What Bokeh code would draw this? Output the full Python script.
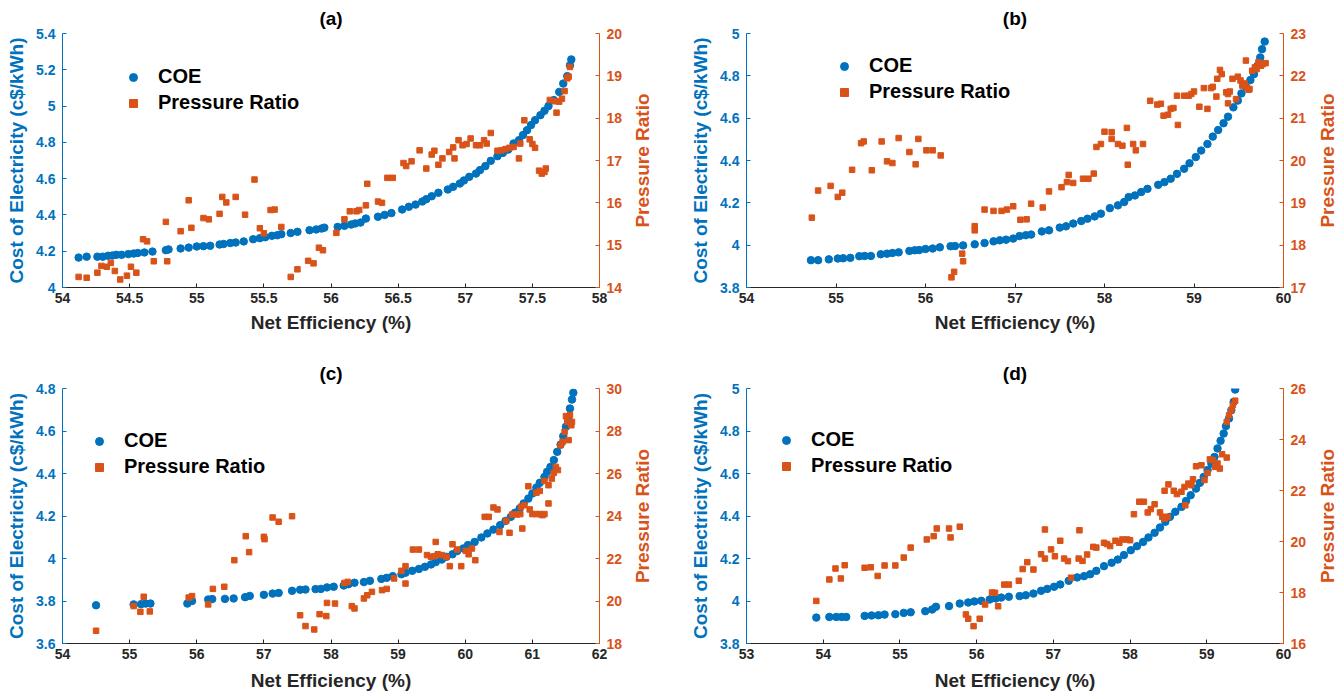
import math
from bokeh.plotting import figure
from bokeh.models import Range1d, LinearAxis, FixedTicker, Legend, LegendItem
from bokeh.core.properties import value
from bokeh.layouts import gridplot
from bokeh.embed import file_html
from bokeh.resources import INLINE

# ---------------- data: panel (a) ----------------
a_eff_coe = [54.12, 54.18, 54.26, 54.30, 54.34, 54.37, 54.40, 54.44, 54.49, 54.53, 54.56, 54.61, 54.67,
             54.77, 54.79, 54.88, 54.94, 55.00, 55.05, 55.10, 55.17, 55.20, 55.25, 55.29, 55.35, 55.42,
             55.47, 55.51, 55.56, 55.60, 55.63, 55.70, 55.75, 55.84, 55.89, 55.93, 55.95, 56.05, 56.10,
             56.15, 56.18, 56.22, 56.26, 56.35, 56.40, 56.45, 56.53, 56.58, 56.63, 56.68, 56.71, 56.75,
             56.80, 56.87, 56.91, 56.96, 56.99, 57.03, 57.08, 57.11, 57.15, 57.19, 57.24, 57.28, 57.32,
             57.36, 57.40, 57.43, 57.46, 57.49, 57.52, 57.56, 57.59, 57.62, 57.66, 57.70, 57.73, 57.76,
             57.78, 57.79]
a_coe = [4.165, 4.17, 4.17, 4.17, 4.175, 4.176, 4.18, 4.18, 4.184, 4.187, 4.19, 4.193, 4.198,
         4.206, 4.21, 4.215, 4.22, 4.226, 4.228, 4.23, 4.237, 4.24, 4.245, 4.248, 4.254, 4.266,
         4.272, 4.277, 4.285, 4.288, 4.294, 4.30, 4.307, 4.316, 4.32, 4.325, 4.33, 4.334, 4.34,
         4.347, 4.353, 4.358, 4.38, 4.39, 4.40, 4.41, 4.43, 4.445, 4.457, 4.474, 4.487, 4.503,
         4.522, 4.54, 4.555, 4.573, 4.59, 4.61, 4.628, 4.647, 4.669, 4.698, 4.724, 4.742, 4.76,
         4.794, 4.812, 4.84, 4.867, 4.895, 4.922, 4.95, 4.974, 5.0, 5.033, 5.078, 5.124, 5.165,
         5.225, 5.257]
a_eff_pr = [54.12, 54.18, 54.26, 54.29, 54.33, 54.36, 54.39, 54.43, 54.48, 54.51, 54.55, 54.60, 54.63,
            54.68, 54.77, 54.78, 54.88, 54.94, 54.96, 55.05, 55.09, 55.17, 55.19, 55.22, 55.29, 55.36,
            55.43, 55.47, 55.50, 55.55, 55.58, 55.63, 55.70, 55.75, 55.83, 55.87, 55.91, 55.94, 56.04,
            56.10, 56.14, 56.19, 56.21, 56.26, 56.27, 56.35, 56.38, 56.42, 56.46, 56.54, 56.56, 56.60,
            56.66, 56.71, 56.75, 56.77, 56.80, 56.83, 56.88, 56.91, 56.92, 56.95, 56.98, 57.01, 57.04,
            57.08, 57.11, 57.14, 57.16, 57.19, 57.24, 57.27, 57.30, 57.33, 57.36, 57.40, 57.41, 57.44,
            57.48, 57.50, 57.52, 57.55, 57.57, 57.59, 57.60, 57.63, 57.67, 57.68, 57.70, 57.72, 57.74,
            57.76, 57.77, 57.78]
a_pr = [14.25, 14.23, 14.35, 14.51, 14.49, 14.58, 14.39, 14.19, 14.28, 14.49, 14.35, 15.14, 15.09,
        14.62, 15.55, 14.62, 15.33, 16.06, 15.41, 15.64, 15.61, 15.74, 16.14, 16.01, 16.14, 15.72,
        16.55, 15.40, 15.28, 15.83, 15.84, 15.43, 14.25, 14.43, 14.63, 14.57, 14.94, 14.88, 15.29,
        15.61, 15.80, 15.80, 15.83, 15.94, 16.45, 16.03, 16.00, 16.59, 16.59, 16.94, 16.87, 16.98,
        17.24, 16.81, 17.14, 17.23, 16.90, 17.05, 17.20, 17.31, 17.05, 17.48, 17.36, 17.39, 17.52,
        17.36, 17.36, 17.48, 17.40, 17.65, 17.23, 17.24, 17.27, 17.30, 17.32, 17.05, 17.40, 17.95,
        17.50, 17.39, 17.30, 16.76, 16.69, 16.73, 16.81, 18.43, 18.40, 18.13, 18.39, 18.46, 18.64,
        18.94, 18.98, 19.21]

# ---------------- data: panel (b) ----------------
b_eff_coe = [54.72, 54.80, 54.92, 55.02, 55.08, 55.16, 55.26, 55.32, 55.39, 55.50, 55.57, 55.63, 55.70,
             55.82, 55.88, 55.93, 56.00, 56.08, 56.16, 56.28, 56.33, 56.42, 56.55, 56.66, 56.76, 56.83,
             56.90, 56.98, 57.05, 57.12, 57.18, 57.30, 57.38, 57.50, 57.57, 57.65, 57.74, 57.81, 57.89,
             57.96, 58.06, 58.15, 58.22, 58.27, 58.34, 58.41, 58.48, 58.60, 58.67, 58.74, 58.81, 58.89,
             58.95, 59.02, 59.08, 59.15, 59.21, 59.27, 59.33, 59.38, 59.44, 59.49, 59.53, 59.58, 59.63,
             59.67, 59.71, 59.74, 59.76, 59.79]
b_coe = [3.929, 3.929, 3.933, 3.937, 3.938, 3.94, 3.948, 3.949, 3.949, 3.957, 3.96, 3.963, 3.966,
         3.973, 3.976, 3.977, 3.982, 3.984, 3.99, 3.995, 3.996, 3.999, 4.004, 4.01, 4.018, 4.023,
         4.026, 4.031, 4.043, 4.047, 4.05, 4.065, 4.07, 4.083, 4.089, 4.102, 4.114, 4.125, 4.136,
         4.149, 4.175, 4.188, 4.204, 4.227, 4.235, 4.251, 4.266, 4.285, 4.298, 4.314, 4.337, 4.361,
         4.387, 4.416, 4.447, 4.478, 4.513, 4.544, 4.576, 4.607, 4.651, 4.683, 4.717, 4.749, 4.78,
         4.808, 4.848, 4.887, 4.926, 4.962]
b_eff_pr = [54.73, 54.80, 54.94, 55.02, 55.07, 55.18, 55.28, 55.31, 55.40, 55.51, 55.57, 55.63, 55.70,
            55.82, 55.89, 55.92, 56.01, 56.08, 56.17, 56.29, 56.32, 56.41, 56.42, 56.55, 56.55, 56.66,
            56.76, 56.85, 56.91, 56.98, 57.06, 57.13, 57.18, 57.31, 57.38, 57.52, 57.58, 57.60, 57.65,
            57.76, 57.82, 57.88, 57.91, 57.96, 58.00, 58.08, 58.08, 58.15, 58.20, 58.25, 58.26, 58.32,
            58.35, 58.43, 58.51, 58.59, 58.63, 58.66, 58.71, 58.74, 58.77, 58.81, 58.82, 58.89, 58.94,
            58.97, 59.00, 59.06, 59.11, 59.15, 59.19, 59.21, 59.25, 59.26, 59.29, 59.31, 59.36, 59.38,
            59.38, 59.40, 59.43, 59.47, 59.49, 59.52, 59.54, 59.57, 59.59, 59.62, 59.58, 59.61, 59.65,
            59.68, 59.70, 59.72, 59.75, 59.77, 59.80]
b_pr = [18.65, 19.29, 19.40, 19.14, 19.24, 19.78, 20.41, 20.45, 19.77, 20.45, 19.98, 19.94, 20.53,
        20.20, 19.91, 20.51, 20.24, 20.24, 20.12, 17.24, 17.37, 17.80, 17.62, 18.35, 18.45, 18.84,
        18.81, 18.81, 18.84, 18.92, 18.60, 18.61, 18.98, 18.89, 19.27, 19.37, 19.49, 19.66, 19.47,
        19.57, 19.57, 19.69, 20.32, 20.39, 20.68, 20.67, 20.51, 20.39, 20.35, 20.77, 19.90, 20.39,
        20.24, 20.39, 21.41, 21.32, 21.34, 21.06, 21.08, 21.22, 21.24, 21.53, 20.84, 21.53, 21.53,
        21.57, 21.63, 21.27, 21.71, 21.22, 21.71, 21.74, 21.51, 21.93, 22.14, 22.04, 21.61, 21.57,
        21.35, 21.63, 21.93, 21.45, 21.98, 21.89, 21.77, 21.82, 21.71, 21.69, 22.36, 21.67, 22.12,
        22.20, 22.16, 22.32, 22.24, 22.28, 22.30]

# ---------------- data: panel (c) ----------------
c_eff_coe = [54.50, 55.06, 55.17, 55.24, 55.31, 55.86, 55.93, 56.17, 56.23, 56.42, 56.55, 56.72, 56.79,
             57.00, 57.13, 57.22, 57.42, 57.54, 57.62, 57.77, 57.85, 57.94, 58.04, 58.19, 58.26, 58.35,
             58.49, 58.58, 58.75, 58.83, 58.92, 59.05, 59.11, 59.21, 59.31, 59.40, 59.49, 59.56, 59.65,
             59.72, 59.81, 59.88, 59.97, 60.04, 60.14, 60.24, 60.33, 60.42, 60.52, 60.60, 60.68, 60.74,
             60.81, 60.87, 60.94, 61.00, 61.06, 61.11, 61.18, 61.22, 61.27, 61.32, 61.37, 61.42, 61.46,
             61.50, 61.53, 61.56, 61.59, 61.61]
c_coe = [3.780, 3.784, 3.785, 3.788, 3.788, 3.788, 3.80, 3.807, 3.809, 3.81, 3.812, 3.818, 3.824,
         3.829, 3.835, 3.838, 3.848, 3.853, 3.854, 3.856, 3.857, 3.864, 3.867, 3.873, 3.879, 3.886,
         3.889, 3.895, 3.904, 3.909, 3.917, 3.926, 3.933, 3.942, 3.951, 3.961, 3.972, 3.983, 3.995,
         4.008, 4.02, 4.035, 4.047, 4.063, 4.078, 4.099, 4.118, 4.136, 4.157, 4.177, 4.196, 4.215,
         4.235, 4.259, 4.282, 4.306, 4.334, 4.356, 4.384, 4.408, 4.431, 4.463, 4.502, 4.536, 4.576,
         4.62, 4.659, 4.706, 4.748, 4.78]
c_eff_pr = [54.50, 55.06, 55.16, 55.21, 55.30, 55.88, 55.93, 56.17, 56.24, 56.41, 56.56, 56.73, 56.78,
            57.00, 57.01, 57.13, 57.22, 57.42, 57.54, 57.62, 57.75, 57.83, 57.93, 57.94, 58.06, 58.20,
            58.25, 58.31, 58.35, 58.49, 58.54, 58.61, 58.76, 58.83, 58.94, 59.05, 59.11, 59.11, 59.22,
            59.31, 59.43, 59.49, 59.54, 59.56, 59.59, 59.65, 59.72, 59.77, 59.81, 59.88, 59.94, 60.01,
            60.05, 60.10, 60.15, 60.29, 60.35, 60.42, 60.48, 60.51, 60.61, 60.66, 60.70, 60.77, 60.82,
            60.83, 60.85, 60.88, 60.94, 60.96, 61.00, 61.06, 61.11, 61.15, 61.18, 61.06, 61.11, 61.24,
            61.18, 61.24, 61.29, 61.32, 61.35, 61.38, 61.42, 61.45, 61.48, 61.50, 61.52, 61.54, 61.56,
            61.58, 61.59]
c_pr = [18.60, 19.76, 19.49, 20.20, 19.51, 20.16, 20.23, 19.84, 20.57, 20.67, 21.92, 23.05, 22.30,
        23.02, 22.91, 23.93, 23.73, 23.99, 19.33, 18.82, 18.66, 19.38, 19.29, 19.91, 19.88, 20.85,
        20.90, 19.76, 19.65, 20.12, 20.27, 20.43, 20.51, 20.57, 21.06, 21.42, 21.64, 20.82, 22.42,
        22.42, 22.16, 22.08, 22.11, 22.78, 22.20, 22.16, 22.08, 21.64, 22.67, 22.42, 21.64, 22.36,
        22.20, 22.47, 21.92, 23.96, 23.96, 24.40, 24.31, 23.25, 23.77, 23.21, 24.07, 24.07, 24.09,
        24.43, 23.41, 24.51, 25.40, 24.31, 24.09, 24.09, 24.09, 24.04, 24.09, 25.09, 25.18, 24.59,
        25.65, 25.45, 25.76, 26.03, 26.31, 26.16, 27.33, 27.49, 27.96, 28.70, 28.43, 27.57, 28.75,
        28.27, 28.43]

# ---------------- data: panel (d) ----------------
d_eff_coe = [53.91, 54.08, 54.17, 54.24, 54.30, 54.54, 54.63, 54.72, 54.80, 54.94, 55.05, 55.14, 55.33,
             55.42, 55.47, 55.64, 55.78, 55.89, 55.97, 56.06, 56.17, 56.25, 56.32, 56.42, 56.56, 56.64,
             56.74, 56.84, 56.92, 57.01, 57.09, 57.20, 57.31, 57.40, 57.48, 57.56, 57.66, 57.76, 57.84,
             57.92, 58.01, 58.09, 58.17, 58.24, 58.32, 58.39, 58.46, 58.52, 58.59, 58.67, 58.73, 58.79,
             58.86, 58.91, 58.96, 59.01, 59.06, 59.10, 59.14, 59.18, 59.22, 59.25, 59.29, 59.32, 59.35,
             59.37]
d_coe = [3.922, 3.925, 3.925, 3.925, 3.925, 3.930, 3.932, 3.933, 3.936, 3.938, 3.944, 3.947, 3.952,
         3.96, 3.973, 3.976, 3.988, 3.993, 3.998, 4.001, 4.007, 4.012, 4.016, 4.02, 4.023, 4.027,
         4.035, 4.048, 4.057, 4.067, 4.078, 4.095, 4.111, 4.117, 4.126, 4.142, 4.164, 4.18, 4.195,
         4.216, 4.239, 4.258, 4.278, 4.299, 4.321, 4.346, 4.373, 4.396, 4.42, 4.443, 4.471, 4.498,
         4.529, 4.556, 4.584, 4.616, 4.647, 4.678, 4.718, 4.754, 4.788, 4.823, 4.859, 4.898, 4.937,
         4.995]
d_eff_pr = [53.91, 54.08, 54.16, 54.23, 54.28, 54.54, 54.62, 54.71, 54.80, 54.94, 55.05, 55.14, 55.35,
            55.44, 55.48, 55.64, 55.66, 55.78, 55.86, 55.89, 55.96, 56.04, 56.11, 56.20, 56.24, 56.28,
            56.36, 56.42, 56.55, 56.60, 56.66, 56.74, 56.84, 56.89, 56.89, 56.97, 57.02, 57.09, 57.14,
            57.19, 57.23, 57.33, 57.34, 57.38, 57.44, 57.52, 57.56, 57.66, 57.70, 57.74, 57.81, 57.86,
            57.90, 57.96, 58.00, 58.05, 58.12, 58.18, 58.23, 58.27, 58.32, 58.39, 58.42, 58.45, 58.45,
            58.49, 58.50, 58.57, 58.61, 58.67, 58.71, 58.72, 58.76, 58.80, 58.82, 58.86, 58.93, 58.97,
            59.01, 59.04, 59.08, 59.11, 59.14, 59.17, 59.20, 59.26, 59.26, 59.29, 59.32, 59.34, 59.37]
d_pr = [17.67, 18.51, 18.94, 18.55, 19.07, 18.97, 18.99, 18.65, 19.06, 19.06, 19.37, 19.76, 20.08,
        20.21, 20.51, 20.51, 20.16, 20.58, 17.14, 16.97, 16.68, 16.97, 17.53, 18.00, 17.99, 17.46,
        18.31, 18.31, 18.46, 18.92, 19.19, 18.90, 19.50, 19.33, 20.47, 19.69, 19.42, 20.03, 19.33,
        19.23, 18.58, 19.33, 20.44, 19.24, 19.49, 19.79, 19.76, 19.95, 19.90, 19.82, 20.03, 19.95,
        20.08, 20.08, 20.05, 21.07, 21.56, 21.56, 21.14, 21.27, 21.46, 21.14, 20.97, 20.90, 21.99,
        20.97, 22.24, 21.99, 21.86, 21.95, 22.14, 21.42, 22.27, 22.21, 22.44, 22.95, 22.99, 22.41,
        22.69, 23.22, 23.19, 22.93, 23.06, 22.86, 23.42, 23.29, 24.69, 24.95, 25.15, 25.35, 25.52]

# ---------------- ticks ----------------
a_xticks = [54, 54.5, 55, 55.5, 56, 56.5, 57, 57.5, 58]
a_xlabels = ["54", "54.5", "55", "55.5", "56", "56.5", "57", "57.5", "58"]
a_lticks = [4, 4.2, 4.4, 4.6, 4.8, 5, 5.2, 5.4]
a_llabels = ["4", "4.2", "4.4", "4.6", "4.8", "5", "5.2", "5.4"]
a_rticks = [14, 15, 16, 17, 18, 19, 20]
a_rlabels = ["14", "15", "16", "17", "18", "19", "20"]

b_xticks = [54, 55, 56, 57, 58, 59, 60]
b_xlabels = ["54", "55", "56", "57", "58", "59", "60"]
b_lticks = [3.8, 4, 4.2, 4.4, 4.6, 4.8, 5]
b_llabels = ["3.8", "4", "4.2", "4.4", "4.6", "4.8", "5"]
b_rticks = [17, 18, 19, 20, 21, 22, 23]
b_rlabels = ["17", "18", "19", "20", "21", "22", "23"]

c_xticks = [54, 55, 56, 57, 58, 59, 60, 61, 62]
c_xlabels = ["54", "55", "56", "57", "58", "59", "60", "61", "62"]
c_lticks = [3.6, 3.8, 4, 4.2, 4.4, 4.6, 4.8]
c_llabels = ["3.6", "3.8", "4", "4.2", "4.4", "4.6", "4.8"]
c_rticks = [18, 20, 22, 24, 26, 28, 30]
c_rlabels = ["18", "20", "22", "24", "26", "28", "30"]

d_xticks = [53, 54, 55, 56, 57, 58, 59, 60]
d_xlabels = ["53", "54", "55", "56", "57", "58", "59", "60"]
d_lticks = [3.8, 4, 4.2, 4.4, 4.6, 4.8, 5]
d_llabels = ["3.8", "4", "4.2", "4.4", "4.6", "4.8", "5"]
d_rticks = [16, 18, 20, 22, 24, 26]
d_rlabels = ["16", "18", "20", "22", "24", "26"]

titles = ["(a)", "(b)", "(c)", "(d)"]
x_title = "Net Efficiency (%)"
yl_title = "Cost of Electricity (c$/kWh)"
yr_title = "Pressure Ratio"
series_names = ["COE", "Pressure Ratio"]

BLUE = "#0072BD"
ORANGE = "#D95319"
DARK = "#262626"
FONT = "Liberation Sans"
TICK_FS = "14px"
LABEL_FS = "19px"


def style_axis(ax, color, ticks, labels, label):
    ax.ticker = FixedTicker(ticks=ticks)
    ax.major_label_overrides = {t: l for t, l in zip(ticks, labels)}
    ax.axis_line_color = color
    ax.axis_line_width = 1
    ax.major_tick_line_color = color
    ax.major_tick_in = 4
    ax.major_tick_out = 0
    ax.minor_tick_line_color = None
    ax.major_label_text_color = color
    ax.major_label_text_font = FONT
    ax.major_label_text_font_style = "bold"
    ax.major_label_text_font_size = TICK_FS
    if label:
        ax.axis_label = label
        ax.axis_label_text_color = color
        ax.axis_label_text_font = FONT
        ax.axis_label_text_font_style = "bold"
        ax.axis_label_text_font_size = LABEL_FS


def panel(title, ex_c, coe, ex_p, pr, xr, yl, yr, xt, xl, lt, ll, rt, rl,
          leg_loc, width, height, bl, br, bt, bb, xlab_standoff):
    p = figure(width=width, height=height, x_range=Range1d(*xr), y_range=Range1d(*yl),
               output_backend="svg", toolbar_location=None,
               min_border_left=bl, min_border_right=br, min_border_top=bt, min_border_bottom=bb)
    p.extra_y_ranges = {"pr": Range1d(*yr)}
    p.outline_line_color = None
    p.xgrid.visible = False
    p.ygrid.visible = False
    p.background_fill_color = "white"
    p.border_fill_color = "white"

    p.title.text = title
    p.title.align = "center"
    p.title.text_font = FONT
    p.title.text_font_style = "bold"
    p.title.text_font_size = LABEL_FS
    p.title.text_color = "black"
    p.title.standoff = 9

    style_axis(p.xaxis[0], DARK, xt, xl, x_title)
    p.xaxis[0].major_label_standoff = 5
    p.xaxis[0].axis_label_standoff = xlab_standoff
    style_axis(p.yaxis[0], BLUE, lt, ll, yl_title)
    p.yaxis[0].major_label_standoff = 7
    p.yaxis[0].axis_label_standoff = 6

    rax = LinearAxis(y_range_name="pr")
    style_axis(rax, ORANGE, rt, rl, None)
    rax.major_label_standoff = 7
    p.add_layout(rax, "right")

    rc = p.scatter(ex_c, coe, marker="circle", size=7.5, fill_color=BLUE, line_color=BLUE)
    rp = p.scatter(ex_p, pr, marker="square", size=5.5, fill_color=ORANGE, line_color=ORANGE,
                   y_range_name="pr")

    legend = Legend(items=[LegendItem(label=series_names[0], renderers=[rc]),
                           LegendItem(label=series_names[1], renderers=[rp])],
                    location=leg_loc)
    legend.border_line_color = None
    legend.background_fill_alpha = 0
    legend.padding = 0
    legend.margin = 0
    legend.spacing = 3
    legend.glyph_width = 20
    legend.glyph_height = 20
    legend.label_height = 20
    legend.label_standoff = 15
    legend.label_text_font = FONT
    legend.label_text_font_style = "bold"
    legend.label_text_font_size = "20px"
    legend.label_text_color = "black"
    p.add_layout(legend)
    return p


def right_label(width, height, bt, bb, xpos):
    # narrow strip holding the right-hand axis title, reading bottom-to-top
    q = figure(width=width, height=height, x_range=Range1d(0, width), y_range=Range1d(0, 1),
               x_axis_type=None, y_axis_type=None, output_backend="svg", toolbar_location=None,
               min_border_left=0, min_border_right=0, min_border_top=bt, min_border_bottom=bb)
    q.outline_line_color = None
    q.background_fill_color = "white"
    q.border_fill_color = "white"
    q.text(x=[xpos], y=[0.5], text=[yr_title], angle=math.pi / 2,
           text_align="center", text_baseline="middle",
           text_font=value(FONT), text_font_style="bold", text_font_size=LABEL_FS,
           text_color=ORANGE)
    return q


pa = panel(titles[0], a_eff_coe, a_coe, a_eff_pr, a_pr, (54, 58), (4, 5.4), (14, 20),
           a_xticks, a_xlabels, a_lticks, a_llabels, a_rticks, a_rlabels,
           (61, 173), 630, 356, 62, 31, 33, 69, 6)
la = right_label(42, 356, 33, 69, 12)
pb = panel(titles[1], b_eff_coe, b_coe, b_eff_pr, b_pr, (54, 60), (3.8, 5), (17, 23),
           b_xticks, b_xlabels, b_lticks, b_llabels, b_rticks, b_rlabels,
           (88, 184), 642, 356, 74, 31, 33, 69, 6)
lb = right_label(30, 356, 33, 69, 13)
pc = panel(titles[2], c_eff_coe, c_coe, c_eff_pr, c_pr, (54, 62), (3.6, 4.8), (18, 30),
           c_xticks, c_xlabels, c_lticks, c_llabels, c_rticks, c_rlabels,
           (27, 165), 630, 342, 62, 31, 32, 55, 8)
lc = right_label(42, 342, 32, 55, 12)
pd_ = panel(titles[3], d_eff_coe, d_coe, d_eff_pr, d_pr, (53, 60), (3.8, 5), (16, 26),
            d_xticks, d_xlabels, d_lticks, d_llabels, d_rticks, d_rlabels,
            (30, 166), 642, 342, 74, 31, 32, 55, 8)
ld = right_label(30, 342, 32, 55, 13)

grid = gridplot([[pa, la, pb, lb], [pc, lc, pd_, ld]], toolbar_location=None)

open("out.html", "w").write(file_html(grid, INLINE))
